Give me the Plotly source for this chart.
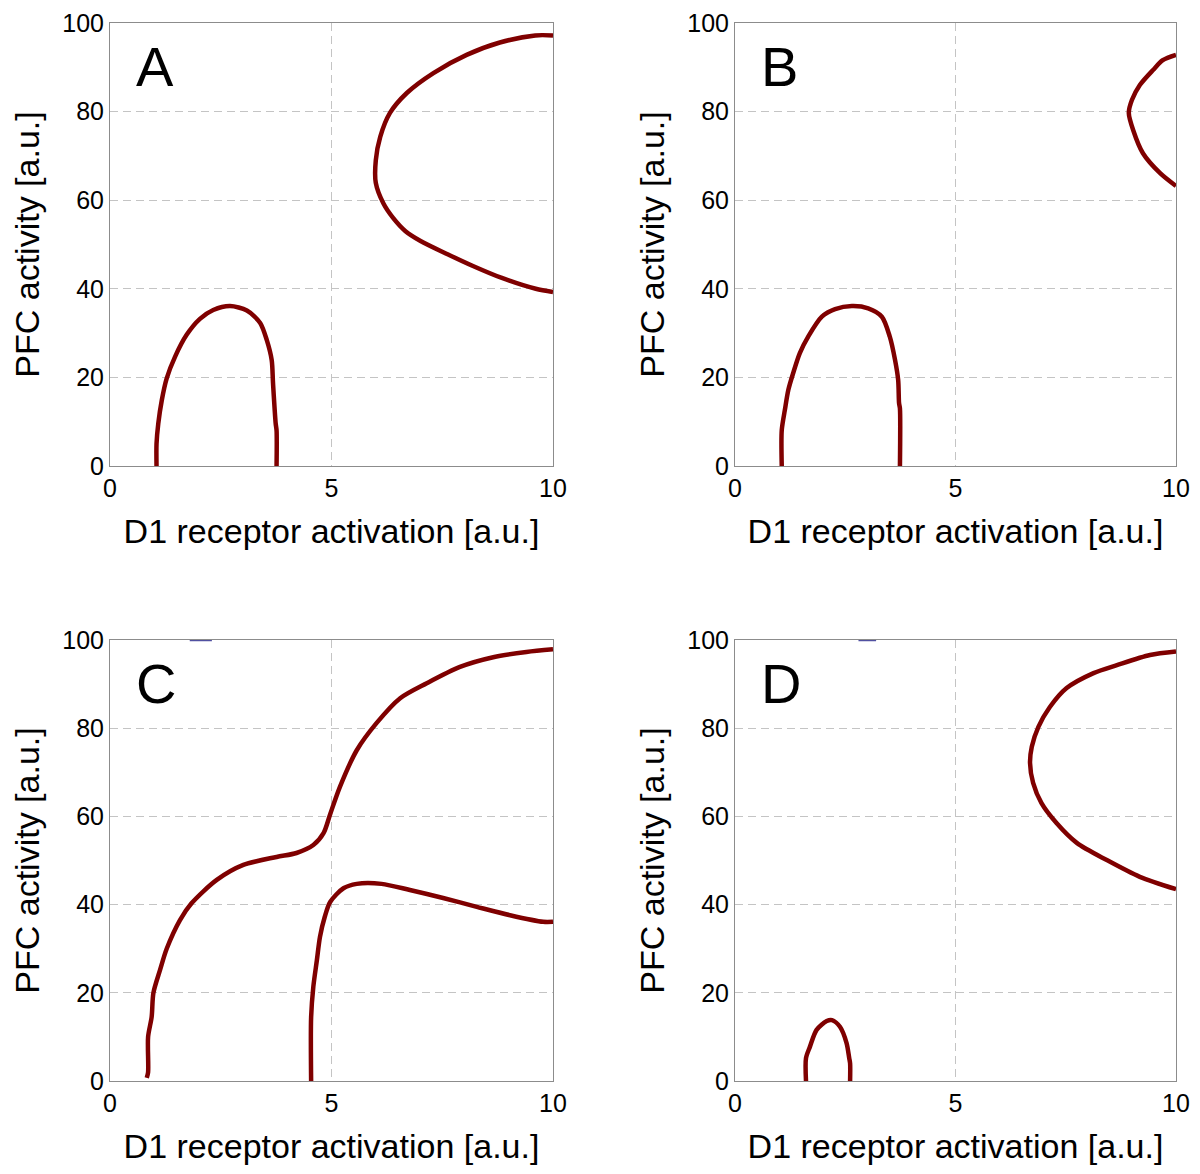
import plotly.graph_objects as go

# ---- data ----
a_low_x = [1.05, 1.05, 1.09, 1.17, 1.28, 1.47, 1.73, 2.03, 2.33, 2.71, 3.09, 3.39, 3.54, 3.65, 3.68, 3.74, 3.76, 3.76]
a_low_y = [0, 5, 9.6, 14.9, 19.8, 24.7, 29.6, 33.2, 35.2, 36.1, 35.1, 32.3, 28.4, 23.9, 18.7, 9.6, 8, 0]
a_up_x = [10, 9.6, 8.8, 8.05, 7.3, 6.7, 6.32, 6.1, 6.0, 6.0, 6.17, 6.39, 6.67, 7.01, 7.62, 8.18, 8.83, 9.61, 10]
a_up_y = [97.2, 97.2, 95.6, 92.8, 88.7, 84.2, 79.7, 74.3, 69, 63.9, 59.3, 56, 53, 50.8, 47.8, 45.2, 42.5, 40, 39.3]

b_low_x = [1.06, 1.06, 1.13, 1.21, 1.32, 1.47, 1.66, 1.97, 2.27, 2.65, 3.02, 3.33, 3.51, 3.63, 3.70, 3.72, 3.74, 3.74]
b_low_y = [0, 8.1, 12.6, 17.2, 21, 25.5, 29.2, 33.7, 35.4, 36.1, 35.6, 33.7, 29.2, 23.9, 19.4, 14.2, 13, 0]
b_up_x = [10, 9.7, 9.48, 9.18, 9.0, 8.93, 9.03, 9.25, 9.64, 10]
b_up_y = [92.8, 91.6, 89.4, 86, 82.6, 79.7, 75.8, 70.6, 66.1, 63.2]

c_1_x = [0.83, 0.86, 0.86, 0.94, 0.98, 1.13, 1.28, 1.58, 1.84, 2.41, 3.01, 3.76, 4.21, 4.59, 4.82, 4.97, 5.19, 5.57, 6.02, 6.55, 7.15, 7.9, 8.65, 9.4, 10]
c_1_y = [0.7, 2, 10, 14.5, 20, 25.2, 30, 36.5, 40.3, 45.6, 49, 50.8, 51.7, 53.5, 56.2, 60.5, 66.7, 75, 81.2, 86.8, 90.2, 93.9, 96.1, 97.3, 97.9]
c_2_x = [4.54, 4.54, 4.59, 4.67, 4.74, 4.85, 4.97, 5.27, 5.57, 6.13, 6.77, 7.52, 8.28, 9.03, 9.78, 10]
c_2_y = [0, 14.5, 21.4, 27.4, 32.7, 37.3, 40.6, 43.7, 44.7, 44.7, 43.3, 41.5, 39.5, 37.6, 36.1, 36.1]

d_low_x = [1.61, 1.61, 1.70, 1.85, 2.08, 2.2, 2.38, 2.53, 2.59, 2.61, 2.61]
d_low_y = [0, 5.2, 7.8, 11.6, 13.6, 13.8, 12.3, 8.6, 5.2, 4, 0]
d_up_x = [10, 9.41, 8.66, 8.13, 7.52, 7.14, 6.88, 6.73, 6.69, 6.76, 6.95, 7.29, 7.75, 8.43, 9.18, 10]
d_up_y = [97.4, 96.6, 94.3, 92.5, 89.1, 84.8, 80.3, 75.8, 72.1, 67.6, 63, 58.5, 54, 50.1, 46.3, 43.5]

# faint blue traces along the top border
c_blue_x = [1.8, 2.3]
c_blue_y = [100, 100]
d_blue_x = [2.8, 3.2]
d_blue_y = [100, 100]

panel_letters = ["A", "B", "C", "D"]
x_ticks = [0, 5, 10]
y_ticks = [0, 20, 40, 60, 80, 100]
x_title = "D1 receptor activation [a.u.]"
y_title = "PFC activity [a.u.]"

RED = "#7f0000"
FONT = "Liberation Sans, Arial, sans-serif"

W, H = 1200, 1174
OFF = 8  # page body margin
x_doms = [[(110 - OFF) / W, (553 - OFF) / W], [(735 - OFF) / W, (1176 - OFF) / W]]
y_doms = [[1 - (466 - OFF) / H, 1 - (23 - OFF) / H], [1 - (1081 - OFF) / H, 1 - (640 - OFF) / H]]

fig = go.Figure()

panels = [
    [(a_low_x, a_low_y), (a_up_x, a_up_y)],
    [(b_low_x, b_low_y), (b_up_x, b_up_y)],
    [(c_1_x, c_1_y), (c_2_x, c_2_y)],
    [(d_low_x, d_low_y), (d_up_x, d_up_y)],
]
blues = {2: (c_blue_x, c_blue_y), 3: (d_blue_x, d_blue_y)}

layout = dict(
    width=W, height=H, margin=dict(l=0, r=0, t=0, b=0, autoexpand=False),
    paper_bgcolor="white", plot_bgcolor="white", showlegend=False,
    font=dict(family=FONT, color="black"),
)
annotations = []
for i in range(4):
    col = i % 2
    row = i // 2
    n = i + 1
    xa = "x" if n == 1 else f"x{n}"
    ya = "y" if n == 1 else f"y{n}"
    if i in blues:
        bx, by = blues[i]
        fig.add_trace(go.Scatter(x=bx, y=by, mode="lines", xaxis=xa, yaxis=ya,
                                 line=dict(color="#5050a0", width=2.5), hoverinfo="skip"))
    for cx, cy in panels[i]:
        fig.add_trace(go.Scatter(x=cx, y=cy, mode="lines", xaxis=xa, yaxis=ya,
                                 line=dict(color=RED, width=4.5, shape="spline", smoothing=0.8),
                                 hoverinfo="skip"))
    axkey_x = "xaxis" if n == 1 else f"xaxis{n}"
    axkey_y = "yaxis" if n == 1 else f"yaxis{n}"
    layout[axkey_x] = dict(
        domain=x_doms[col], anchor=ya, range=[0, 10], tickvals=x_ticks,
        showgrid=True, gridcolor="#c4c4c4", griddash="8px,5px", gridwidth=1,
        showline=True, linecolor="#8c8c8c", linewidth=1, mirror=True,
        ticks="", zeroline=False, tickfont=dict(size=25, family=FONT),
        title=dict(text=x_title, font=dict(size=34, family=FONT), standoff=18),
        automargin=False, fixedrange=True,
    )
    layout[axkey_y] = dict(
        domain=y_doms[row], anchor=xa, range=[0, 100], tickvals=y_ticks,
        showgrid=True, gridcolor="#c4c4c4", griddash="8px,5px", gridwidth=1,
        showline=True, linecolor="#8c8c8c", linewidth=1, mirror=True,
        ticks="", zeroline=False, tickfont=dict(size=25, family=FONT),
        title=dict(text=y_title, font=dict(size=34, family=FONT), standoff=12),
        automargin=False, fixedrange=True,
    )
    annotations.append(dict(
        text=panel_letters[i], xref=xa, yref=ya, x=0.55, y=90.2,
        xanchor="left", yanchor="middle", showarrow=False,
        font=dict(size=56, family=FONT, color="black"),
    ))

layout["annotations"] = annotations
fig.update_layout(**layout)
fig.write_html("out.html")
